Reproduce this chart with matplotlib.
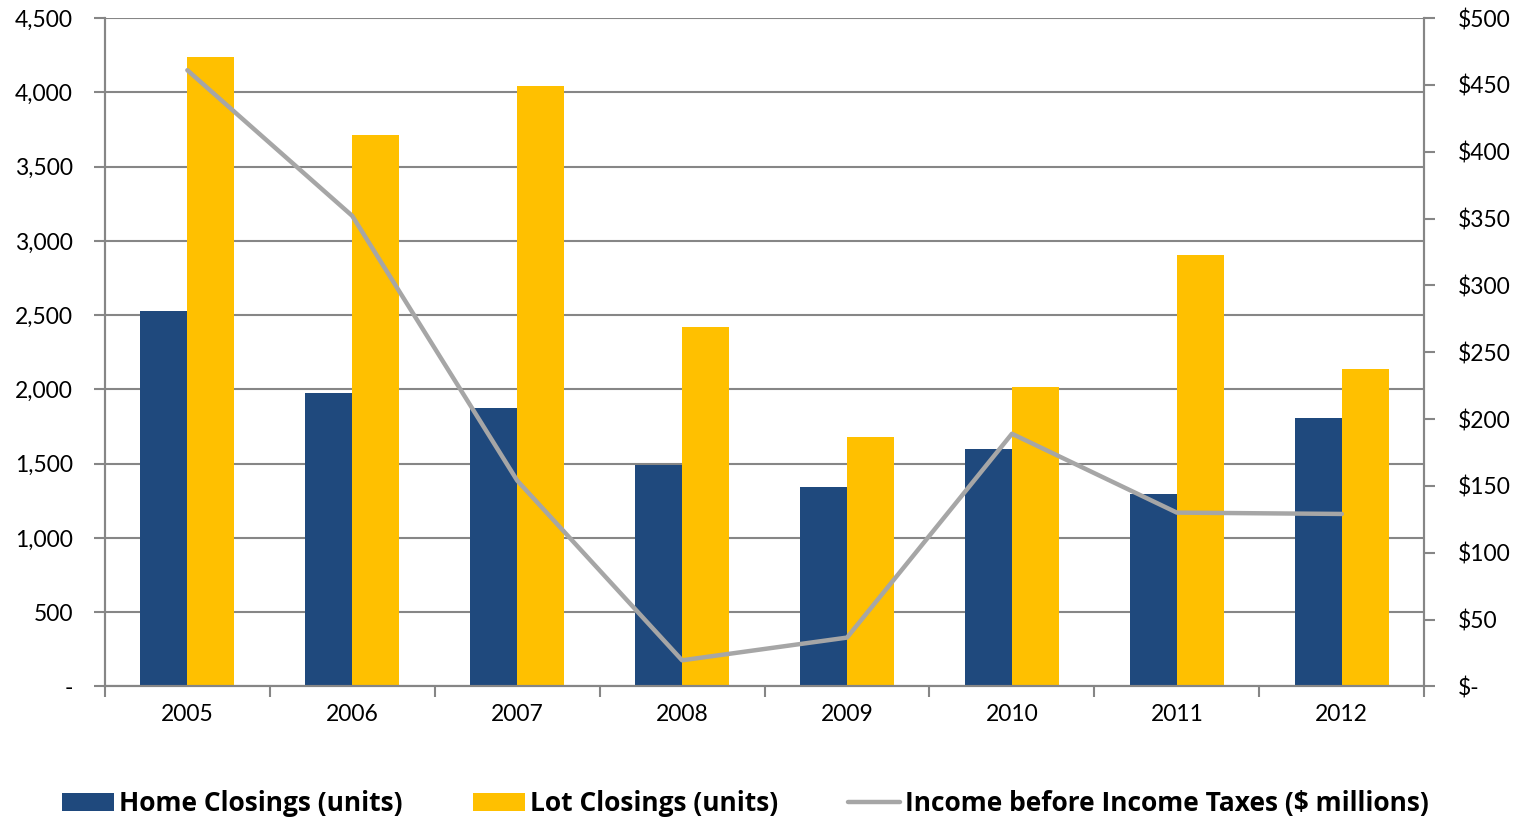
import matplotlib.pyplot as plt
import numpy as np

plt.rcParams['font.family'] = ['Lato', 'DejaVu Sans']

years = ['2005', '2006', '2007', '2008', '2009', '2010', '2011', '2012']
home_closings = [2530, 1975, 1873, 1490, 1341, 1597, 1293, 1805]
lot_closings = [4240, 3712, 4045, 2420, 1677, 2014, 2905, 2138]
income = [461, 352, 154, 19.5, 36.5, 189, 130, 129]

left_ticks = [0, 500, 1000, 1500, 2000, 2500, 3000, 3500, 4000, 4500]
left_labels = ['-', '500', '1,000', '1,500', '2,000', '2,500', '3,000', '3,500', '4,000', '4,500']
right_ticks = [0, 50, 100, 150, 200, 250, 300, 350, 400, 450, 500]
right_labels = ['$-', '$50', '$100', '$150', '$200', '$250', '$300', '$350', '$400', '$450', '$500']

NAVY = '#1F497D'
GOLD = '#FFC000'
LINE_GRAY = '#A6A6A6'
AXIS_GRAY = '#868686'

fig = plt.figure(figsize=(15.2, 8.22), dpi=100)
ax = fig.add_axes([0.069, 0.165, 0.868, 0.813])
ax2 = ax.twinx()

x = np.arange(len(years))
w = 0.285
ax.bar(x - w / 2, home_closings, w, color=NAVY, label='Home Closings (units)', zorder=2)
ax.bar(x + w / 2, lot_closings, w, color=GOLD, label='Lot Closings (units)', zorder=2)
ax2.plot(x, income, color=LINE_GRAY, linewidth=3.2, label='Income before Income Taxes ($ millions)',
         solid_capstyle='round')

ax.set_xlim(-0.5, len(years) - 0.5)
ax.set_ylim(0, 4500)
ax2.set_ylim(0, 500)

ax.set_yticks(left_ticks)
ax.set_yticklabels(left_labels)
ax2.set_yticks(right_ticks)
ax2.set_yticklabels(right_labels)

ax.set_xticks(x)
ax.set_xticklabels(years)
ax.set_xticks(np.arange(-0.5, len(years), 1.0), minor=True)
ax.tick_params(axis='x', which='major', length=0, pad=13, labelsize=16.5)
ax.tick_params(axis='x', which='minor', length=8, width=1.5, color=AXIS_GRAY, direction='out')

ax.tick_params(axis='y', length=8, width=1.5, color=AXIS_GRAY, pad=15, labelsize=16.5)
ax2.tick_params(axis='y', length=8, width=1.5, color=AXIS_GRAY, pad=16, labelsize=16.5)

ax.yaxis.grid(True, color=AXIS_GRAY, linewidth=1.5, zorder=0)
ax.set_axisbelow(True)

for a in (ax, ax2):
    a.spines['top'].set_visible(False)
    for s in ('left', 'right', 'bottom'):
        a.spines[s].set_color(AXIS_GRAY)
        a.spines[s].set_linewidth(1.5)

h1, l1 = ax.get_legend_handles_labels()
h2, l2 = ax2.get_legend_handles_labels()
fig.legend(h1 + h2, l1 + l2, loc='center', bbox_to_anchor=(0.4905, 0.022), ncol=3,
           frameon=False, prop={'family': 'Open Sans', 'weight': 'bold', 'size': 19},
           handlelength=1.97, handleheight=0.65, handletextpad=0.2, columnspacing=2.65,
           borderaxespad=0)

fig.savefig('out.png', dpi=100, facecolor='white')
